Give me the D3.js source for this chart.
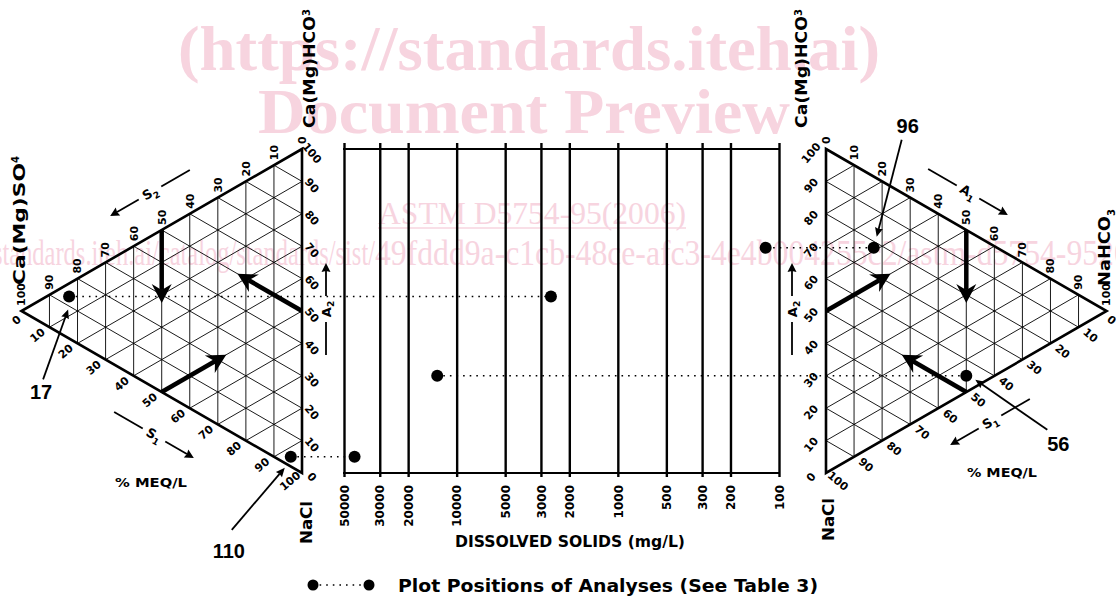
<!DOCTYPE html>
<html>
<head>
<meta charset="utf-8">
<script src="https://cdn.jsdelivr.net/npm/d3@7"></script>
<style>
  body { margin: 0; background: #fff; }
  svg { display: block; }
  text { font-family: "DejaVu Sans", sans-serif; font-weight: bold; fill: #000; }
  .wm text { font-family: "Liberation Serif", serif; fill: #f7d4df; }
  .num { font-family: "Liberation Sans", sans-serif; }
</style>
</head>
<body>
<div class="canvas"></div>
<script>
const width = 1116, height = 600;

// analyses from Table 3
const analyses = ['17', '56', '96', '110'];
const triangle = ['S', 'A', 'A', 'S'];      // S = left (sulfate/chloride), A = right (bicarbonate)
const naclPct = [4, 45, 22, 93];
const sideAnionPct = [83, 50, 17, 4];       // Ca(Mg)SO4 on the left, NaHCO3 on the right
const hco3Pct = [13, 5, 61, 3];             // Ca(Mg)HCO3
const dissolvedSolids = [2600, 13200, 121, 43000];

const tdsTicks = [50000, 30000, 20000, 10000, 5000, 3000, 2000, 1000, 500, 300, 200, 100];
const pctTicks = d3.range(0, 101, 10);

const svg = d3.select('.canvas').append('svg')
    .attr('width', width)
    .attr('height', height);

// scales
const yA = d3.scaleLinear().domain([0, 100]).range([473, 149]);
const side = yA(0) - yA(100);
const W = side * Math.sqrt(3) / 2;
const xS = d3.scaleLinear().domain([0, 100]).range([302, 302 - W]);
const xA = d3.scaleLinear().domain([0, 100]).range([826, 826 + W]);
const xTds = d3.scaleLog().domain([50000, 100]).range([344, 779]);

// ---- watermark
const wm = svg.append('g').attr('class', 'wm');
wm.append('text')
    .attr('x', 529).attr('y', 70)
    .attr('text-anchor', 'middle')
    .attr('font-size', 64)
    .attr('textLength', 702).attr('lengthAdjust', 'spacingAndGlyphs')
    .text('(https://standards.iteh.ai)');
wm.append('text')
    .attr('x', 524).attr('y', 133)
    .attr('text-anchor', 'middle')
    .attr('font-size', 64)
    .attr('textLength', 532).attr('lengthAdjust', 'spacingAndGlyphs')
    .text('Document Preview');
wm.append('text')
    .attr('x', 532).attr('y', 224)
    .attr('text-anchor', 'middle')
    .attr('font-size', 32).style('font-weight', 'normal')
    .attr('textLength', 308).attr('lengthAdjust', 'spacingAndGlyphs')
    .text('ASTM D5754-95(2006)');
wm.append('line')
    .attr('x1', 378).attr('x2', 686).attr('y1', 228).attr('y2', 228)
    .attr('stroke', '#f7d4df').attr('stroke-width', 1.5);
const urlA = 'https://standards.iteh.ai/catalog/standards/sist/';
const urlB = '49fddd9a-c1cb-48ce-afc3-4e4b004255c2/astm-d5754-952006';
const urlText = wm.append('text')
    .attr('y', 265)
    .attr('font-size', 36).style('font-weight', 'normal');
const tA = urlText.append('tspan').text(urlA);
const tB = urlText.append('tspan').text(urlB);
const lenA = tA.node().getComputedTextLength() * 0.68;
const lenB = tB.node().getComputedTextLength() * 0.88;
tA.attr('x', 375 - lenA).attr('textLength', lenA).attr('lengthAdjust', 'spacingAndGlyphs');
tB.attr('x', 375).attr('textLength', lenB).attr('lengthAdjust', 'spacingAndGlyphs');

// ---- helpers
const line = d3.line();
function head(g, x1, y1, x2, y2, len, hw, notch) {
    const a = Math.atan2(y2 - y1, x2 - x1) * 180 / Math.PI;
    g.append('path')
        .attr('d', `M0,0L${-len},${-hw}L${-len + notch},0L${-len},${hw}Z`)
        .attr('transform', `translate(${x2},${y2}) rotate(${a})`)
        .attr('fill', '#000');
}
function arrow(g, a, b, sw, len, hw, notch) {
    const dx = b[0] - a[0], dy = b[1] - a[1], L = Math.hypot(dx, dy);
    const e = [b[0] - dx / L * (len - notch), b[1] - dy / L * (len - notch)];
    g.append('path').attr('d', line([a, e])).attr('stroke', '#000').attr('stroke-width', sw).attr('fill', 'none');
    head(g, a[0], a[1], b[0], b[1], len, hw, notch);
}

// ---- trilinear triangles
function ternary(x, dir) {
    const g = svg.append('g');
    const p = (c, h) => [x(c), yA(h + c / 2)];
    const grid = [];
    d3.range(10, 100, 10).forEach(k => {
        grid.push([p(k, 100 - k), p(k, 0)]);         // constant side anion
        grid.push([p(100 - k, 0), p(0, 100 - k)]);   // constant NaCl
        grid.push([p(100 - k, k), p(0, k)]);         // constant Ca(Mg)HCO3
    });
    g.selectAll('path.grid').data(grid).join('path')
        .attr('class', 'grid')
        .attr('d', line)
        .attr('stroke', '#000').attr('stroke-width', 0.9).attr('fill', 'none');
    g.append('path')
        .attr('d', line([p(0, 100), p(100, 0), p(0, 0)]) + 'Z')
        .attr('fill', 'none').attr('stroke', '#000').attr('stroke-width', 2.6);

    // scale labels
    const lab = (pt, dx, dy, rot, anchor) => g.append('text')
        .attr('transform', `translate(${pt[0] + dx},${pt[1] + dy}) rotate(${rot})`)
        .attr('text-anchor', anchor).attr('dy', '0.35em')
        .attr('font-size', 11);
    pctTicks.forEach(k => {
        lab(p(k, 100 - k), 0, -5, -90, 'start').text(k);                     // top edge
        lab(p(0, k), dir < 0 ? 10 : -15, 4, -dir * 50, 'middle').text(k);   // vertical edge
        const q = p(100 - k, 0);
        const dx = k === 0 ? dir * 5 : dir * 12;
        lab(q, dx, k === 0 ? 9 : 8, dir * 40, 'middle').text(k);            // lower edge
    });

    // thick reading arrows
    [[[50, 50], [50, 27.5]], [[0, 50], [23, 50]], [[50, 0], [27, 23]]].forEach(d => {
        arrow(g, p(...d[0]), p(...d[1]), 4.5, 19, 10, 6);
    });
    return g;
}
const left = ternary(xS, -1);
const right = ternary(xA, 1);

// vertex names
function vname(x, y, main, sub, subDy, len) {
    const t = svg.append('text')
        .attr('transform', `translate(${x},${y}) rotate(-90)`)
        .attr('dy', '0.35em').attr('font-size', 16);
    t.append('tspan').attr('textLength', len).attr('lengthAdjust', 'spacingAndGlyphs').text(main);
    if (sub) t.append('tspan').attr('font-size', 10).attr('dy', subDy).text(sub);
}
vname(309, 128, 'Ca(Mg)HCO', '3', '-0.5em', 112);
vname(801, 128, 'Ca(Mg)HCO', '3', '-0.5em', 112);
vname(19, 285, 'Ca(Mg)SO', '4', '-0.6em', 122);
vname(1104, 286, 'NaHCO', '3', '0.5em', 70);
vname(306, 544, 'NaCl', null, null, 43);
vname(828, 541, 'NaCl', null, null, 43);

// edge arrows S1 S2 A1 A2
const edgeMarks = [
    { t: 'S', s: '2', x: 150, y: 193, rot: -30, dir: -1 },
    { t: 'S', s: '1', x: 154, y: 435, rot: 30, dir: 1 },
    { t: 'A', s: '2', x: 326, y: 309, rot: -90, dir: 1 },
    { t: 'A', s: '1', x: 968, y: 192, rot: 30, dir: 1 },
    { t: 'S', s: '1', x: 990, y: 422, rot: -30, dir: -1 },
    { t: 'A', s: '2', x: 792, y: 309, rot: -90, dir: 1 }
];
edgeMarks.forEach(m => {
    const g = svg.append('g').attr('transform', `translate(${m.x},${m.y}) rotate(${m.rot})`);
    const tx = g.append('text').attr('text-anchor', 'middle').attr('dy', '0.35em').attr('font-size', 13);
    tx.append('tspan').text(m.t);
    tx.append('tspan').attr('font-size', 9).attr('dy', '0.4em').text(m.s);
    g.append('path').attr('d', line([[-m.dir * 13, 0], [-m.dir * 46, 0]]))
        .attr('stroke', '#000').attr('stroke-width', 1.8);
    arrow(g, [m.dir * 13, 0], [m.dir * 46, 0], 1.8, 9, 4.5, 1);
});

// % MEQ/L
svg.append('text').attr('x', 151).attr('y', 487).attr('text-anchor', 'middle').attr('font-size', 13)
    .attr('textLength', 72).attr('lengthAdjust', 'spacingAndGlyphs').text('% MEQ/L');
svg.append('text').attr('x', 1002).attr('y', 477).attr('text-anchor', 'middle').attr('font-size', 13)
    .attr('textLength', 70).attr('lengthAdjust', 'spacingAndGlyphs').text('% MEQ/L');

// ---- dissolved solids chart
const axis = d3.axisBottom(xTds)
    .tickValues(tdsTicks)
    .tickSize(-(yA(0) - yA(100) + 10))
    .tickFormat(d => d);
const ag = svg.append('g')
    .attr('transform', `translate(0,${yA(0) + 4})`)
    .call(axis);
ag.select('.domain').remove();
ag.selectAll('.tick line').attr('stroke', '#000').attr('stroke-width', 2.4);
ag.selectAll('.tick text')
    .attr('transform', 'rotate(-90)')
    .attr('x', -8).attr('y', 0).attr('dy', '0.35em')
    .attr('text-anchor', 'end')
    .attr('font-size', 12);
[100, 0].forEach(v => {
    svg.append('line')
        .attr('x1', xTds(50000) - 1).attr('x2', xTds(100) + 1)
        .attr('y1', yA(v)).attr('y2', yA(v))
        .attr('stroke', '#000').attr('stroke-width', 2.2);
});
svg.append('text').attr('x', 570).attr('y', 547).attr('text-anchor', 'middle').attr('font-size', 15)
    .attr('textLength', 230).attr('lengthAdjust', 'spacingAndGlyphs').text('DISSOLVED SOLIDS (mg/L)');

// ---- analyses
const pts = analyses.map((id, i) => {
    const x = triangle[i] === 'S' ? xS : xA;
    return {
        id,
        tx: x(sideAnionPct[i]),
        ty: yA(hco3Pct[i] + sideAnionPct[i] / 2),
        mx: xTds(dissolvedSolids[i])
    };
});
svg.selectAll('line.link').data(pts).join('line')
    .attr('class', 'link')
    .attr('x1', d => d.tx).attr('x2', d => d.mx)
    .attr('y1', d => d.ty).attr('y2', d => d.ty)
    .attr('stroke', '#000').attr('stroke-width', 1.5)
    .attr('stroke-dasharray', '1.6,5');
svg.selectAll('circle.tri').data(pts).join('circle')
    .attr('class', 'tri').attr('cx', d => d.tx).attr('cy', d => d.ty).attr('r', 6);
svg.selectAll('circle.tds').data(pts).join('circle')
    .attr('class', 'tds').attr('cx', d => d.mx).attr('cy', d => d.ty).attr('r', 6);

// callouts (offsets from the triangle point)
const callouts = {
    '17': { from: [-26, 83], to: [-1, 13], label: [-28, 103] },
    '56': { from: [81, 54], to: [9, 4], label: [92, 75] },
    '96': { from: [28, -108], to: [3, -11], label: [34, -115] },
    '110': { from: [-59, 73], to: [-6, 11], label: [-62, 101] }
};
pts.forEach(d => {
    const c = callouts[d.id];
    arrow(svg, [d.tx + c.from[0], d.ty + c.from[1]], [d.tx + c.to[0], d.ty + c.to[1]], 1.8, 9, 4, 1);
    svg.append('text').attr('class', 'num')
        .attr('x', d.tx + c.label[0]).attr('y', d.ty + c.label[1])
        .attr('text-anchor', 'middle').attr('font-size', 20)
        .text(d.id);
});

// ---- legend
const lg = svg.append('g').attr('transform', 'translate(313,585)');
lg.append('line').attr('x1', 0).attr('x2', 56).attr('stroke', '#000')
    .attr('stroke-width', 1.5).attr('stroke-dasharray', '1.6,5');
lg.append('circle').attr('r', 5.5);
lg.append('circle').attr('cx', 56).attr('r', 5.5);
lg.append('text').attr('x', 85).attr('y', 7).attr('font-size', 17)
    .attr('textLength', 420).attr('lengthAdjust', 'spacingAndGlyphs')
    .text('Plot Positions of Analyses (See Table 3)');
</script>
</body>
</html>
